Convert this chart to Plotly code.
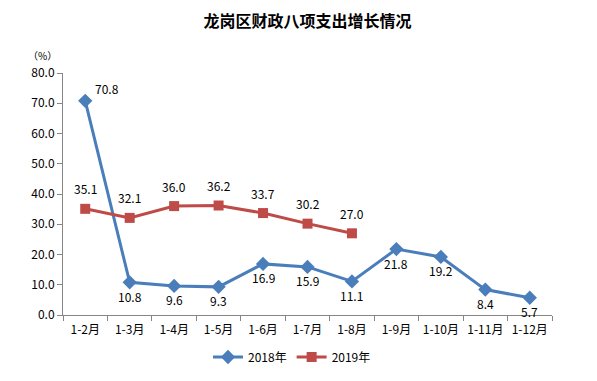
import plotly.graph_objects as go

categories = ["1-2月", "1-3月", "1-4月", "1-5月", "1-6月", "1-7月", "1-8月", "1-9月", "1-10月", "1-11月", "1-12月"]
values_2018 = [70.8, 10.8, 9.6, 9.3, 16.9, 15.9, 11.1, 21.8, 19.2, 8.4, 5.7]
values_2019 = [35.1, 32.1, 36.0, 36.2, 33.7, 30.2, 27.0]
y_ticks = [0, 10, 20, 30, 40, 50, 60, 70, 80]

blue = "#4A7EBB"
red = "#BE4B48"
font_main = "Noto Sans CJK SC, Microsoft YaHei, sans-serif"

# The page body has an 8px default margin, so the figure is sized to fit inside it.
W, H = 581, 365

fig = go.Figure()
fig.add_trace(go.Scatter(
    x=categories, y=values_2018, name="2018年", mode="lines+markers",
    line=dict(color=blue, width=3),
    marker=dict(symbol="diamond", size=11, color=blue),
    cliponaxis=False,
))
fig.add_trace(go.Scatter(
    x=categories[:len(values_2019)], y=values_2019, name="2019年", mode="lines+markers",
    line=dict(color=red, width=3),
    marker=dict(symbol="square", size=10, color=red),
    cliponaxis=False,
))

label_font = dict(size=12, color="#000000", family=font_main)
for i, (c, v) in enumerate(zip(categories, values_2018)):
    if i == 0:
        fig.add_annotation(x=c, y=v, text=f"{v:.1f}", showarrow=False, font=label_font,
                           xshift=22, yshift=12, xanchor="center", yanchor="middle")
    else:
        fig.add_annotation(x=c, y=v, text=f"{v:.1f}", showarrow=False, font=label_font,
                           yshift=-14, xanchor="center", yanchor="middle")
for c, v in zip(categories, values_2019):
    fig.add_annotation(x=c, y=v, text=f"{v:.1f}", showarrow=False, font=label_font,
                       yshift=20, xanchor="center", yanchor="middle")

fig.update_layout(
    width=W, height=H,
    paper_bgcolor="white", plot_bgcolor="white",
    margin=dict(l=55, r=37, t=65, b=58, autoexpand=False),
    font=dict(family=font_main, size=12, color="#000000"),
    title=dict(text="<b>龙岗区财政八项支出增长情况</b>", x=0.5, xanchor="center",
               xref="paper", y=1 - 13 / H, yanchor="middle", yref="container",
               font=dict(size=16, color="#000000")),
    showlegend=True,
    legend=dict(orientation="h", x=(292 - 8) / W, xanchor="center", xref="container",
                y=(H - 349) / H, yanchor="middle", yref="container",
                font=dict(size=12), itemwidth=30),
    xaxis=dict(type="category", showline=True, linecolor="#868686", linewidth=1,
               ticks="outside", tickson="boundaries", ticklen=5, tickcolor="#868686",
               showgrid=False, tickfont=dict(size=12), tickangle=0,
               ticklabelstandoff=4, range=[-0.5, 10.5], automargin=False),
    yaxis=dict(range=[0, 80], tickvals=y_ticks, ticktext=[f"{v:.1f}" for v in y_ticks],
               showline=True, linecolor="#868686", linewidth=1, ticks="outside",
               ticklen=5, tickcolor="#868686", showgrid=False, zeroline=False,
               tickfont=dict(size=12), automargin=False),
)
fig.add_annotation(text="（%）", xref="paper", yref="paper", x=(34 - 55) / 489,
                   y=(307 - 47) / 242, showarrow=False, font=dict(size=10),
                   xanchor="center", yanchor="middle")

fig.write_html("out.html")
